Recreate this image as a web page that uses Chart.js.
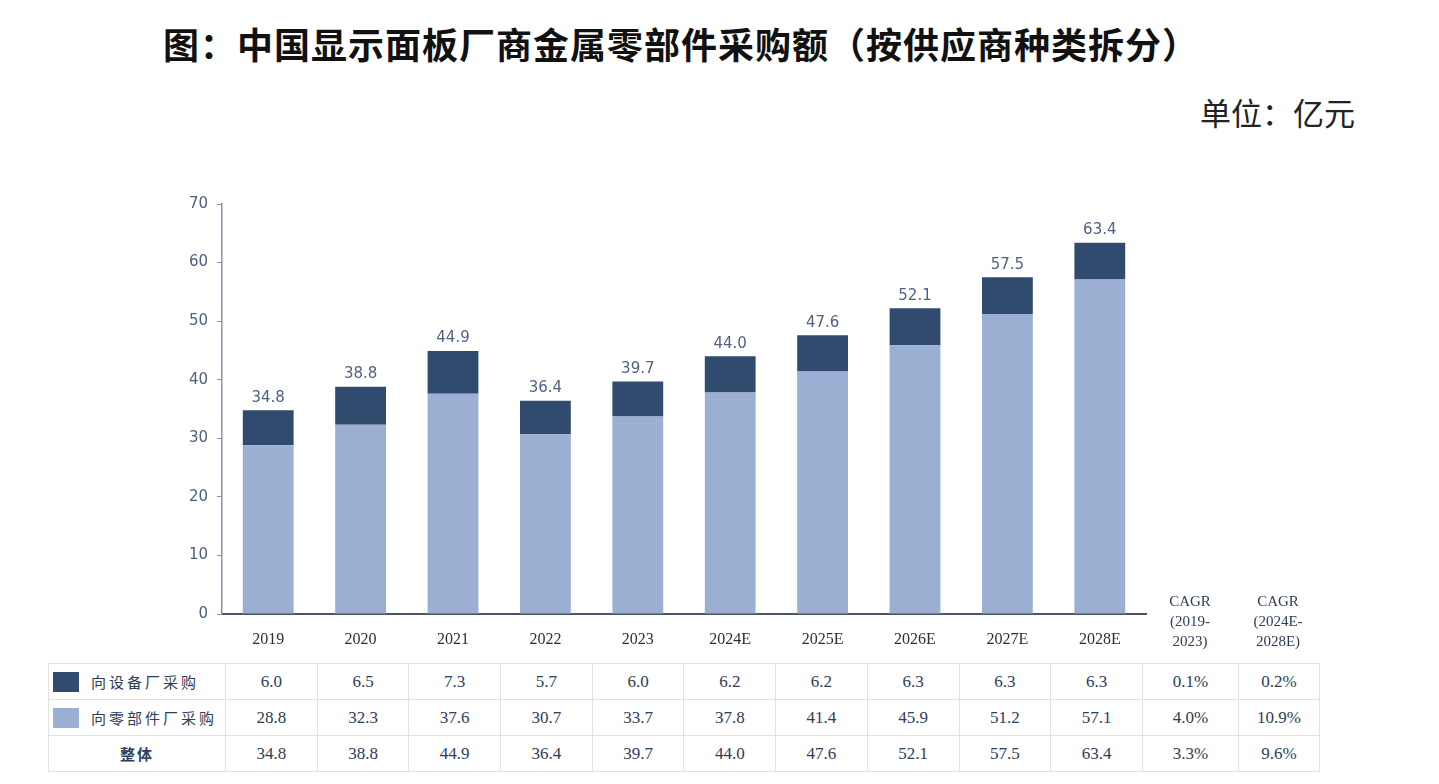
<!DOCTYPE html>
<html lang="zh">
<head>
  <meta charset="UTF-8" />
  <title>中国显示面板厂商金属零部件采购额</title>
  <script src="https://cdn.jsdelivr.net/npm/chart.js"></script>
  <style>
    body {
      margin: 0;
      background: #ffffff;
      width: 1439px;
      height: 784px;
      position: relative;
      overflow: hidden;
      font-family: 'Liberation Serif', serif;
    }

    .title {
      position: absolute;
      top: 17px;
      left: 0;
      width: 1362px;
      text-align: center;
      font-family: 'Noto Sans CJK SC', sans-serif;
      font-weight: bold;
      font-size: 36px;
      color: #111;
      letter-spacing: 1px;
    }

    .unit {
      position: absolute;
      top: 89px;
      right: 84px;
      font-family: 'Noto Sans CJK SC', sans-serif;
      font-size: 31px;
      color: #222;
    }

    .chart-box {
      position: absolute;
      left: 0;
      top: 180px;
      width: 1439px;
      height: 475px;
    }

    .cagr-head {
      position: absolute;
      top: 591px;
      width: 90px;
      text-align: center;
      font-size: 15px;
      line-height: 20px;
      color: #2e3d58;
    }

    table {
      position: absolute;
      left: 48px;
      top: 663px;
      border-collapse: collapse;
      table-layout: fixed;
      color: #2e3d58;
      font-size: 17px;
    }

    td {
      border: 1px solid #e2e2e2;
      height: 35px;
      padding: 0;
      text-align: center;
    }

    td.name {
      text-align: left;
      font-family: 'Noto Sans CJK SC', sans-serif;
      font-size: 15px;
      letter-spacing: 3px;
    }

    td.total {
      text-align: center;
      font-weight: bold;
      letter-spacing: 2px;
    }

    .swatch {
      display: inline-block;
      width: 26px;
      height: 20px;
      margin: 0 12px 0 4px;
      vertical-align: -4px;
    }
  </style>
</head>
<body>

<div class="title">图：中国显示面板厂商金属零部件采购额（按供应商种类拆分）</div>
<div class="unit">单位：亿元</div>

<div class="chart-box">
  <canvas id="chart"></canvas>
</div>

<div class="cagr-head" style="left:1145px">CAGR<br>(2019-<br>2023)</div>
<div class="cagr-head" style="left:1233px">CAGR<br>(2024E-<br>2028E)</div>

<table id="data-table"></table>

<script>
  // chart data
  const years = ['2019', '2020', '2021', '2022', '2023', '2024E', '2025E', '2026E', '2027E', '2028E'];
  const equipmentBuy = [6.0, 6.5, 7.3, 5.7, 6.0, 6.2, 6.2, 6.3, 6.3, 6.3];
  const partsBuy = [28.8, 32.3, 37.6, 30.7, 33.7, 37.8, 41.4, 45.9, 51.2, 57.1];
  const totals = [34.8, 38.8, 44.9, 36.4, 39.7, 44.0, 47.6, 52.1, 57.5, 63.4];

  // CAGR columns (2019-2023, 2024E-2028E)
  const cagrEquipment = ['0.1%', '0.2%'];
  const cagrParts = ['4.0%', '10.9%'];
  const cagrTotal = ['3.3%', '9.6%'];

  const yMin = 0;
  const yMax = 70;
  const yStep = 10;

  const darkBlue = '#304b6d';
  const lightBlue = '#9aafd1';

  // Table under the chart
  function buildTable() {
    const table = document.getElementById('data-table');
    let html = '<colgroup><col style="width:177px">';
    years.forEach(() => { html += '<col style="width:91.7px">'; });
    html += '<col style="width:96px"><col style="width:81px"></colgroup>';

    const rows = [
      { name: '向设备厂采购', color: darkBlue, values: equipmentBuy, cagr: cagrEquipment },
      { name: '向零部件厂采购', color: lightBlue, values: partsBuy, cagr: cagrParts },
      { name: '整体', color: null, values: totals, cagr: cagrTotal }
    ];

    rows.forEach(r => {
      html += '<tr>';
      if (r.color) {
        html += `<td class="name"><span class="swatch" style="background:${r.color}"></span>${r.name}</td>`;
      } else {
        html += `<td class="name total">${r.name}</td>`;
      }
      r.values.forEach(v => { html += `<td>${v.toFixed(1)}</td>`; });
      r.cagr.forEach(v => { html += `<td>${v}</td>`; });
      html += '</tr>';
    });
    table.innerHTML = html;
  }

  // total labels above each stacked bar
  const totalLabels = {
    id: 'totalLabels',
    afterDatasetsDraw(chart) {
      const ctx = chart.ctx;
      const meta = chart.getDatasetMeta(1);
      ctx.save();
      ctx.font = '15px "DejaVu Sans", sans-serif';
      ctx.fillStyle = '#4f6282';
      ctx.textAlign = 'center';
      ctx.textBaseline = 'bottom';
      meta.data.forEach((bar, i) => {
        ctx.fillText(totals[i].toFixed(1), bar.x, bar.y - 5);
      });
      ctx.restore();
    }
  };

  function renderChart() {
    new Chart(document.getElementById('chart'), {
      type: 'bar',
      data: {
        labels: years,
        datasets: [
          {
            label: '向零部件厂采购',
            data: partsBuy,
            backgroundColor: lightBlue,
            barPercentage: 1,
            categoryPercentage: 0.55
          },
          {
            label: '向设备厂采购',
            data: equipmentBuy,
            backgroundColor: darkBlue,
            barPercentage: 1,
            categoryPercentage: 0.55
          }
        ]
      },
      options: {
        responsive: true,
        maintainAspectRatio: false,
        animation: false,
        layout: {
          padding: { top: 24, right: 293, left: 0, bottom: 0 }
        },
        plugins: {
          legend: { display: false },
          tooltip: { enabled: false }
        },
        scales: {
          x: {
            stacked: true,
            grid: { display: false },
            border: { display: true, color: '#4a5566', width: 2 },
            ticks: {
              color: '#2a2f3d',
              padding: 8,
              font: { family: 'Liberation Serif', size: 16 }
            },
            afterFit(scale) { scale.height = 41; }
          },
          y: {
            stacked: true,
            min: yMin,
            max: yMax,
            grid: {
              drawOnChartArea: false,
              drawTicks: true,
              tickLength: 5,
              color: '#8394ad'
            },
            border: { display: true, color: '#8394ad', width: 1.5 },
            ticks: {
              stepSize: yStep,
              color: '#4c6080',
              padding: 9,
              font: { family: 'DejaVu Sans', size: 15 }
            },
            afterFit(scale) { scale.width = 222; }
          }
        }
      },
      plugins: [totalLabels]
    });
  }

  window.onload = () => {
    buildTable();
    renderChart();
  };
</script>
</body>
</html>
